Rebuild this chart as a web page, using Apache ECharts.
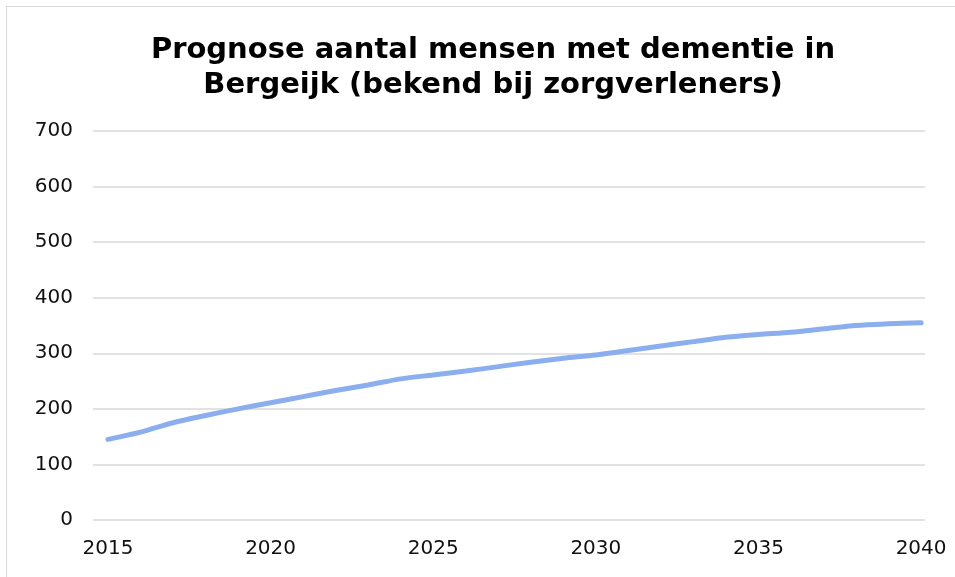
<!DOCTYPE html>
<html>
<head>
<meta charset="utf-8">
<script src="https://cdn.jsdelivr.net/npm/echarts@6/dist/echarts.min.js"></script>
<style>
  html, body { margin: 0; padding: 0; background: #fff; }
  #frame { position: absolute; left: 6px; top: 6px; width: 960px; height: 580px; border: 1px solid #d9d9d9; box-sizing: border-box; }
  #main { position: absolute; left: 0; top: 0; width: 955px; height: 577px; }
</style>
</head>
<body>
<div id="frame"></div>
<div id="main"></div>
<script>
  // jaren en prognose (aantal mensen met dementie)
  var years = [2015, 2016, 2017, 2018, 2019, 2020, 2021, 2022, 2023, 2024, 2025, 2026, 2027,
    2028, 2029, 2030, 2031, 2032, 2033, 2034, 2035, 2036, 2037, 2038, 2039, 2040];
  var aantal = [145, 158, 175, 188, 200, 211, 222, 233, 243, 254, 261, 268, 276,
    284, 291, 297, 305, 313, 321, 329, 334, 338, 344, 350, 353, 355];
  var yearTicks = [2015, 2020, 2025, 2030, 2035, 2040];
  var titleText = "Prognose aantal mensen met dementie in\nBergeijk (bekend bij zorgverleners)";

  var myChart = echarts.init(document.getElementById("main"), null, { renderer: "canvas" });

  var points = years.map(function (y, i) { return [y, aantal[i]]; });

  var option = {
    backgroundColor: "transparent",
    animation: false,
    title: {
      text: titleText,
      left: 488,
      textAlign: "center",
      top: 28,
      textStyle: {
        fontFamily: "DejaVu Sans",
        fontWeight: "bold",
        fontSize: 29,
        lineHeight: 35,
        color: "#000",
      },
    },
    grid: { left: 93, right: 30, top: 131, bottom: 57 },
    xAxis: {
      type: "value",
      // gridlijnen lopen iets voorbij de eerste/laatste jaar
      min: 2014.54,
      max: 2040.12,
      axisLine: { show: false },
      axisTick: { show: false },
      splitLine: { show: false },
      axisLabel: {
        customValues: yearTicks,
        margin: 19,
        fontFamily: "DejaVu Sans",
        fontSize: 20,
        color: "#111",
        formatter: function (v) { return String(v); },
      },
    },
    yAxis: {
      type: "value",
      min: 0,
      max: 700,
      interval: 100,
      axisLine: { show: false },
      axisTick: { show: false },
      splitLine: { lineStyle: { color: "#d9d9d9", width: 1.5 } },
      axisLabel: {
        margin: 20,
        fontFamily: "DejaVu Sans",
        fontSize: 20,
        color: "#111",
      },
    },
    series: [
      {
        name: "Prognose",
        type: "line",
        data: points,
        smooth: 0.3,
        showSymbol: false,
        lineStyle: { color: "#8aaeee", width: 5, cap: "round" },
      },
    ],
  };
  myChart.setOption(option);
</script>
</body>
</html>
